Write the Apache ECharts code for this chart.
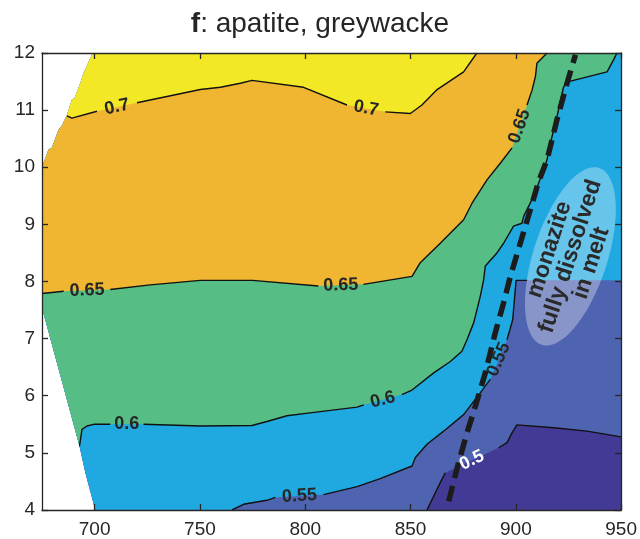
<!DOCTYPE html>
<html>
<head>
<meta charset="utf-8">
<script src="https://cdn.jsdelivr.net/npm/echarts@6/dist/echarts.min.js"></script>
<style>
  html, body { margin: 0; padding: 0; background: #ffffff; }
  #chart { width: 640px; height: 539px; }
</style>
</head>
<body>
<div id="chart"></div>
<script>
// Axes: temperature (x) and pressure (y)
const X_MIN = 675, X_MAX = 950, Y_MIN = 4, Y_MAX = 12;
const xTicks = [700, 750, 800, 850, 900, 950];
const yTicks = [4, 5, 6, 7, 8, 9, 10, 11, 12];

// Contour levels; a null entry is where the level label interrupts the line
const c70 = [[686.9,10.90],[689.2,10.86],[701.1,10.98],null,[720.1,11.13],[750.2,11.36],[759.7,11.40],[769.2,11.47],[774.7,11.52],[799.2,11.40],[819.8,11.09],null,[838.0,10.97],[849.9,10.94],[855.4,11.09],[862.6,11.36],[875.2,11.67],[881.5,12]];
const c65 = [[675,7.79],[685.3,7.83],null,[707.4,7.86],[726.4,7.94],[750.2,8.02],[775.0,8.02],[806.2,7.92],null,[827.6,7.95],[850.7,8.09],[854.6,8.33],[864.1,8.67],[875.2,9.08],[879.2,9.37],[886.3,9.78],[892.6,10.07],[898.2,10.34],null,[905.3,11.09],[907.7,11.35],[909.3,11.59],[910.0,11.82],[914.8,12]];
const c60 = [[692.8,5.12],[694.0,5.41],[696.4,5.47],[699.5,5.50],[707.4,5.50],null,[723.2,5.50],[750.2,5.47],[774.7,5.48],[781.8,5.55],[791.3,5.65],[802.3,5.70],[824.6,5.80],[827.8,5.84],null,[845.9,6.02],[850.7,6.10],[861.0,6.40],[868.9,6.60],[874.4,6.78],[876.8,6.98],[880.0,7.28],[883.1,7.74],[884.7,8.03],[885.5,8.27],[891.0,8.50],[894.2,8.67],[898.9,8.97],[902.9,9.02],[903.7,9.14],[908.4,9.49],[910.8,9.72],[913.2,9.96],[914.8,10.13],[916.4,10.42],[919.5,10.88],[922.6,11.40],[925.0,11.50],[943.3,11.67],[946.4,11.88],[948.0,12]];
const c55 = [[765.2,4.0],[770.7,4.10],[781.8,4.17],[785.8,4.22],null,[808.7,4.27],[824.6,4.41],[835.6,4.55],[850.7,4.77],[852.3,4.92],[857.8,5.15],[865.7,5.38],[875.2,5.67],[883.1,6.05],[887.9,6.29],null,[895.8,6.98],[898.5,7.33],[900.1,8.02],[905.4,8.02]];
const c50 = [[857.8,4.0],[864.1,4.48],[866.5,4.65],null,[891.8,5.09],[895.8,5.18],[898.2,5.35],[900.5,5.49],[917.9,5.44],[933.8,5.38],[950,5.28]];

const levels = [0.5, 0.55, 0.6, 0.65, 0.7];
const contours = [c50, c55, c60, c65, c70];

// Edge of the computed field on the low-temperature side
const edgeUpperLeft = [[675,10.0],[678.1,10.31],[679.7,10.34],[682.9,10.66],[684.5,10.73],[686.9,10.92],[689.2,11.18],[690.5,11.21],[693.2,11.47],[694.8,11.65],[698.7,11.97],[699.5,12]];
const edgeLowerLeft = [[675,7.54],[692.8,5.12],[695.6,4.65],[700.3,4.0]];

// Monazite-out boundary (dashed)
const monaziteOut = [[868.1,4.15],[872.8,4.83],[876.8,5.35],[880.8,5.82],[885.5,6.40],[890.2,7.10],[894.2,7.63],[897.4,8.09],[902.1,8.67],[906.9,9.26],[910.8,9.75],[914.8,10.13],[919.5,10.83],[924.3,11.47],[928.3,11.97]];

// Note placed in the monazite-free field
const noteAnchor = [925.9, 8.44];
const noteText = 'monazite\nfully dissolved\nin melt';

const FONT = '"Liberation Sans", Arial, Helvetica, sans-serif';
const INK = '#262626';
const bandColors = ['#433a96', '#4f64b0', '#20a8e0', '#56be84', '#f0b632', '#f2e826'];

const pts = a => a.filter(Boolean);
const rev = a => a.slice().reverse();

// Filled bands, painted from the lowest level upward
const domain = [...edgeLowerLeft, [X_MAX, Y_MIN], [X_MAX, Y_MAX], ...rev(edgeUpperLeft)];
const last55 = c55[c55.length - 1];
const bands = [
  domain,
  [...pts(c50), [X_MAX, Y_MAX], ...rev(edgeUpperLeft), ...edgeLowerLeft],
  [...pts(c55), [X_MAX, last55[1]], [X_MAX, Y_MAX], ...rev(edgeUpperLeft), ...edgeLowerLeft],
  [...pts(c60), ...rev(edgeUpperLeft), edgeLowerLeft[0]],
  [...pts(c65), ...rev(edgeUpperLeft)],
  [...pts(c70), ...rev(edgeUpperLeft).filter(p => p[1] > c70[0][1])]
];

const series = [];

bands.forEach((poly, i) => {
  series.push({
    type: 'custom',
    silent: true,
    animation: false,
    z: 1,
    data: poly,
    renderItem: (params, api) => {
      if (params.dataIndex !== 0) return null;
      return {
        type: 'polygon',
        shape: { points: poly.map(p => api.coord(p)) },
        style: { fill: bandColors[i], stroke: null }
      };
    }
  });
});

// Contour lines, split where labels sit
contours.forEach(arr => {
  let seg = [];
  const flush = () => {
    if (seg.length > 1) {
      series.push({
        type: 'line', data: seg, symbol: 'none', silent: true, animation: false, z: 3,
        lineStyle: { color: '#111111', width: 1.4 }
      });
    }
    seg = [];
  };
  arr.forEach(p => { if (p === null) flush(); else seg.push(p); });
  flush();
});

// Contour labels at each break in the line
const labelItems = [];
contours.forEach((arr, k) => {
  arr.forEach((p, i) => {
    if (p === null) {
      const a = arr[i - 1], b = arr[i + 1];
      labelItems.push([(a[0] + b[0]) / 2, (a[1] + b[1]) / 2, levels[k], a[0], a[1], b[0], b[1]]);
    }
  });
});

series.push({
  type: 'custom',
  silent: true,
  animation: false,
  z: 5,
  data: labelItems,
  renderItem: (params, api) => {
    const lvl = api.value(2);
    const pa = api.coord([api.value(3), api.value(4)]);
    const pb = api.coord([api.value(5), api.value(6)]);
    let ang = Math.atan2(-(pb[1] - pa[1]), pb[0] - pa[0]);
    if (ang > Math.PI / 2) ang -= Math.PI;
    if (ang < -Math.PI / 2) ang += Math.PI;
    return {
      type: 'text',
      x: (pa[0] + pb[0]) / 2,
      y: (pa[1] + pb[1]) / 2,
      rotation: ang,
      style: {
        text: String(lvl),
        fill: lvl === 0.5 ? '#ffffff' : INK,
        font: 'bold 18px ' + FONT,
        align: 'center',
        verticalAlign: 'middle'
      }
    };
  }
});

// Dashed monazite-out boundary
series.push({
  type: 'line', data: monaziteOut, symbol: 'none', silent: true, animation: false, z: 4,
  lineStyle: { color: '#1c1c1c', width: 5.5, type: [16, 8], cap: 'butt' }
});

// Highlight ellipse with its note
series.push({
  type: 'custom',
  silent: true,
  animation: false,
  z: 6,
  data: [noteAnchor],
  renderItem: (params, api) => {
    const c = api.coord([api.value(0), api.value(1)]);
    const th = 72 * Math.PI / 180;
    const a = 93, b = 37;
    const ux = Math.cos(th), uy = -Math.sin(th);
    const vx = Math.sin(th), vy = Math.cos(th);
    const ring = [];
    for (let k = 0; k < 90; k++) {
      const t = k / 90 * Math.PI * 2;
      ring.push([c[0] + a * Math.cos(t) * ux + b * Math.sin(t) * vx,
                 c[1] + a * Math.cos(t) * uy + b * Math.sin(t) * vy]);
    }
    return {
      type: 'group',
      children: [
        { type: 'polygon', shape: { points: ring }, style: { fill: 'rgba(255,255,255,0.32)' } },
        {
          type: 'text', x: c[0], y: c[1], rotation: th,
          style: {
            text: noteText, fill: '#2a2a2a', font: 'bold 23px ' + FONT,
            lineHeight: 22, align: 'center', verticalAlign: 'middle'
          }
        }
      ]
    };
  }
});

const axisLineStyle = { color: INK, width: 1.3 };
const makeX = (pos, showLabel) => ({
  type: 'value', min: X_MIN, max: X_MAX, position: pos, z: 10,
  axisLine: { show: true, onZero: false, lineStyle: axisLineStyle },
  axisTick: { show: true, inside: true, length: 6, customValues: xTicks, lineStyle: axisLineStyle },
  axisLabel: { show: showLabel, customValues: xTicks, color: INK, fontSize: 19, fontFamily: FONT, margin: 10 },
  splitLine: { show: false }
});
const makeY = (pos, showLabel) => ({
  type: 'value', min: Y_MIN, max: Y_MAX, position: pos, z: 10,
  axisLine: { show: true, onZero: false, lineStyle: axisLineStyle },
  axisTick: { show: true, inside: true, length: 6, customValues: yTicks, lineStyle: axisLineStyle },
  axisLabel: { show: showLabel, customValues: yTicks, color: INK, fontSize: 19, fontFamily: FONT, margin: 7 },
  splitLine: { show: false }
});

const chart = echarts.init(document.getElementById('chart'), null, { renderer: 'canvas' });
chart.setOption({
  animation: false,
  backgroundColor: '#ffffff',
  title: {
    text: '{b|f}: apatite, greywacke',
    left: 'center',
    top: 5,
    textStyle: {
      fontSize: 28, fontWeight: 'normal', color: INK, fontFamily: FONT,
      rich: { b: { fontSize: 28, fontWeight: 'bold', color: INK, fontFamily: FONT } }
    }
  },
  grid: { left: 42, right: 18.5, top: 53, bottom: 28.3, containLabel: false },
  xAxis: [makeX('bottom', true), makeX('top', false)],
  yAxis: [makeY('left', true), makeY('right', false)],
  series: series
});
</script>
</body>
</html>
